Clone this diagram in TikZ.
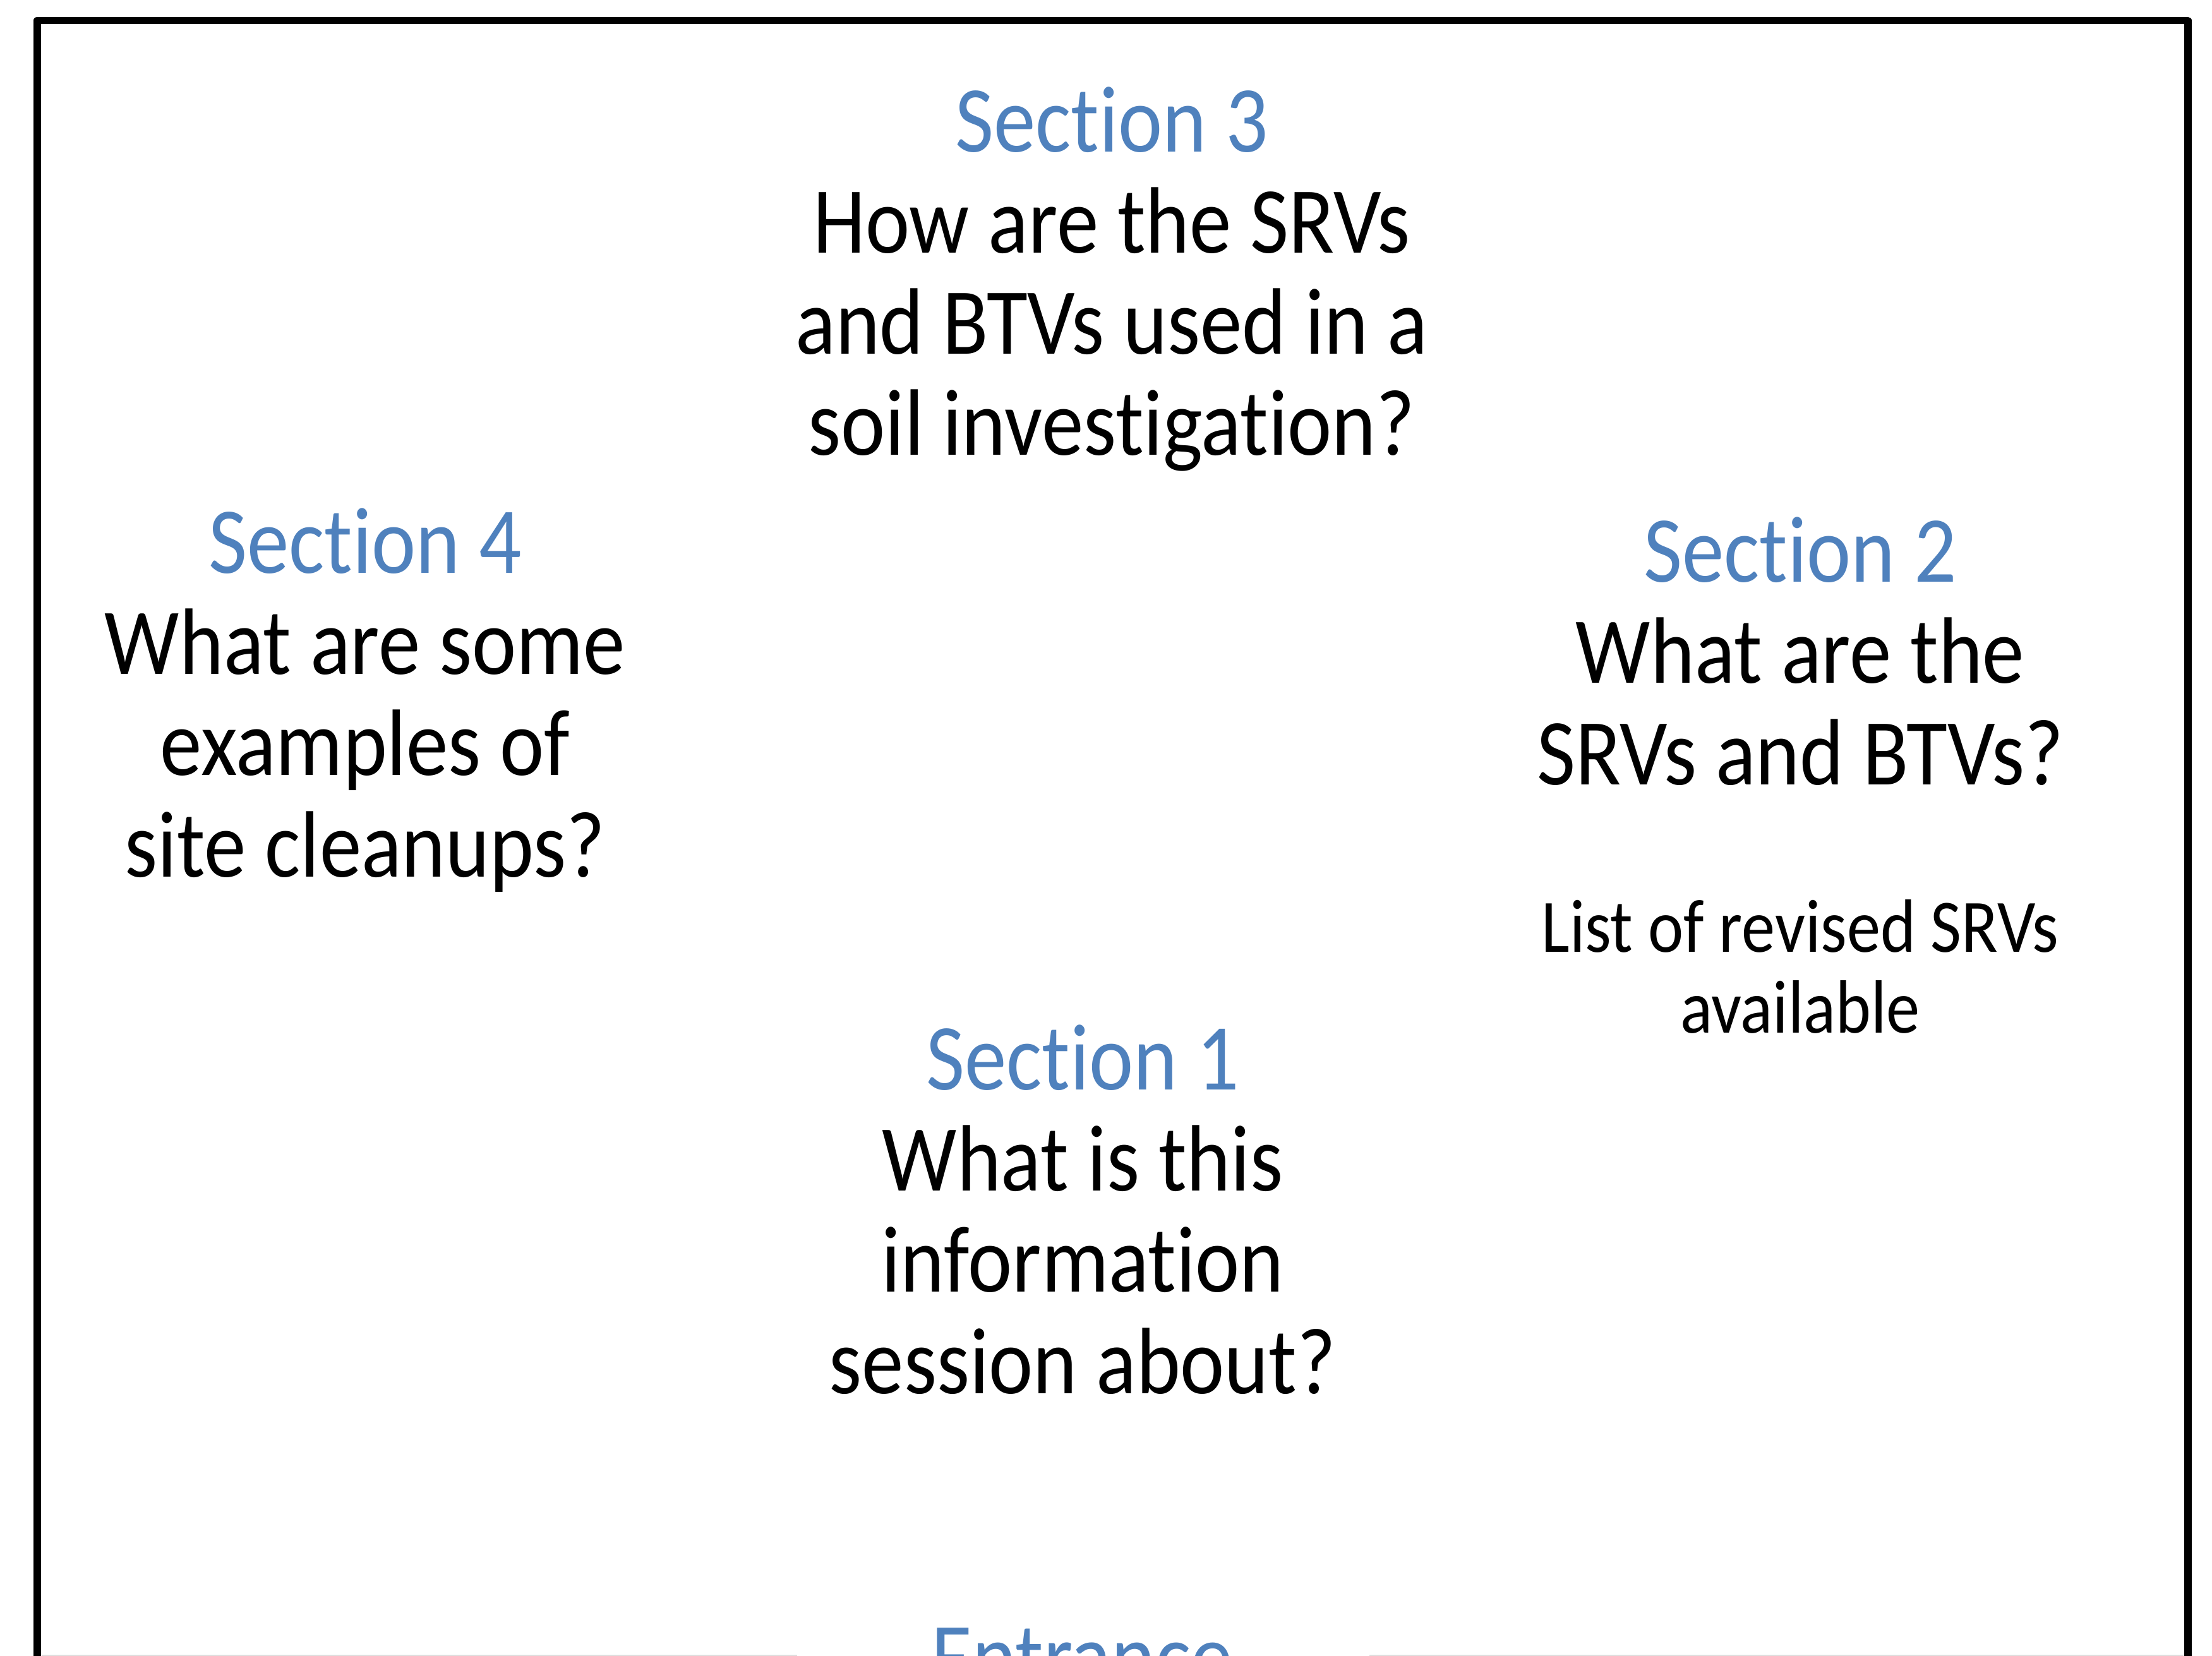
\documentclass[tikz,border=0pt]{standalone}
\usepackage{fontspec}
\setmainfont{Carlito}[FakeStretch=0.89,Ligatures=NoCommon]
\definecolor{secblue}{RGB}{79,129,189}
\newcommand{\sectitle}[1]{\textcolor{secblue}{#1}}
\tikzset{
  question/.style={align=center,inner sep=0pt,anchor=base,font=\fontsize{42.5}{45.6}\selectfont},
  note/.style={align=center,inner sep=0pt,anchor=base,font=\fontsize{34}{36.2}\selectfont}
}

\begin{document}
\begin{tikzpicture}
    \useasboundingbox (0,0) rectangle (35.02,-26.22);
    \clip (0,0) rectangle (35.02,-26.22);
    %walls of the room, the bottom one is open at the entrance
    \draw[line width=3.4pt,line join=round] (0.59,-27)--(0.59,-0.325)--(34.635,-0.325)--(34.635,-27);
    \draw[gray!25,line width=0.3pt] (0.66,-26.21)--(12.62,-26.21);
    \draw[gray!25,line width=0.3pt] (21.68,-26.21)--(34.57,-26.21);
    %base anchor = baseline of the last line
    \node[question] (s3) at (17.60,-7.21) {\sectitle{Section 3}\\How are the SRVs\\and BTVs used in a\\soil investigation?};
    \node[question] (s4) at (5.78,-13.88) {\sectitle{Section 4}\\What are some\\examples of\\site cleanups?};
    \node[question] (s2) at (28.50,-12.42) {\sectitle{Section 2}\\What are the\\SRVs and BTVs?};
    \node[note] (srvlist) at (28.50,-16.35) {List of revised SRVs\\available};
    \node[question] (s1) at (17.14,-22.06) {\sectitle{Section 1}\\What is this\\information\\session about?};
    \node[question] (entrance) at (17.13,-26.73) {\sectitle{Entrance}};
\end{tikzpicture}
\end{document}
